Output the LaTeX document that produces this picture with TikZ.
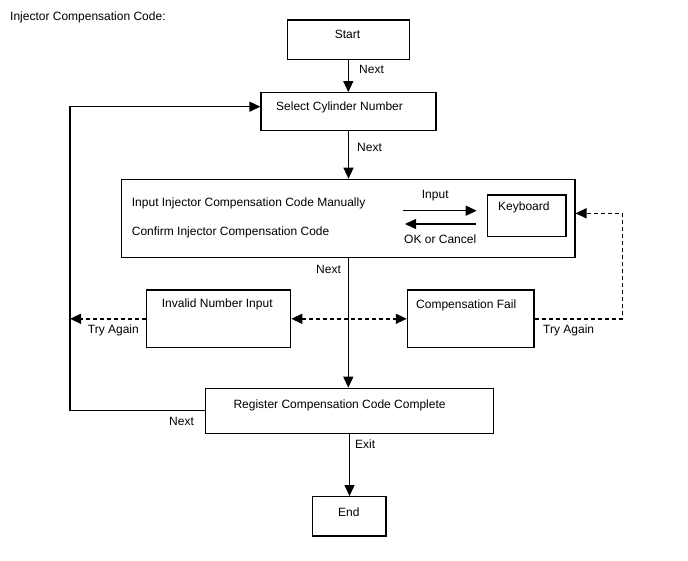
\documentclass[tikz,border=0pt]{standalone}
\usepackage{fontspec}
\setmainfont{Liberation Sans}
\usetikzlibrary{arrows.meta}
\tikzset{
  every picture/.style={font=\fontsize{12}{14}\selectfont},
  caja/.style={draw, line width=1.2pt, inner sep=0pt},
  txt/.style={anchor=base west, inner sep=0pt},
  txtc/.style={anchor=base, inner sep=0pt},
  punta/.tip={Triangle[length=11pt, width=10pt]},
  linea/.style={line width=1.2pt},
  flecha/.style={-punta, line width=1.2pt},
  flechad/.style={-punta, line width=1.5pt, dash pattern=on 4pt off 3pt},
  flechadd/.style={punta-punta, line width=1.5pt, dash pattern=on 4pt off 3pt},
}
\begin{document}
\begin{tikzpicture}[x=1pt, y=-1pt]
  \useasboundingbox (0,0) rectangle (688,560);
  % boxes
  \node[caja, minimum width=122pt, minimum height=39.3pt] (S) at (348.3,39.7) {};
  \node[caja, minimum width=175pt, minimum height=38pt] (C) at (348.5,111.7) {};
  \node[caja, minimum width=453.3pt, minimum height=78pt] (I) at (348.3,218.3) {};
  \node[caja, minimum width=78.7pt, minimum height=41.7pt] (K) at (526.7,215.8) {};
  \node[caja, minimum width=144pt, minimum height=57.7pt] (N) at (218.7,318.8) {};
  \node[caja, minimum width=126.7pt, minimum height=57.7pt] (F) at (470.7,318.8) {};
  \node[caja, minimum width=287.6pt, minimum height=45pt] (R) at (349.5,410.8) {};
  \node[caja, minimum width=73.7pt, minimum height=39.3pt] (E) at (349.2,516.3) {};
  % texts
  \node[txt] (titulo) at (10,20.3) {Injector Compensation Code:};
  \node[txtc] (tS) at (347.5,38.3) {Start};
  \node[txt] (tC) at (276,110.3) {Select Cylinder Number};
  \node[txt] (tI1) at (131.7,206.6) {Input Injector Compensation Code Manually};
  \node[txt] (tI2) at (131.7,235.3) {Confirm Injector Compensation Code};
  \node[txt] (tK) at (498,210.3) {Keyboard};
  \node[txt] (tN) at (161.7,307.6) {Invalid Number Input};
  \node[txt] (tF) at (416,308.6) {Compensation Fail};
  \node[txt] (tR) at (233.3,408.6) {Register Compensation Code Complete};
  \node[txtc] (tE) at (348.8,516.5) {End};
  % connector labels
  \node[txt] (n1) at (359,73.3) {Next};
  \node[txt] (n2) at (357,151) {Next};
  \node[txt] (n3) at (316,273.6) {Next};
  \node[txt] (n4) at (169,425.3) {Next};
  \node[txt] (x1) at (355,448.6) {Exit};
  \node[txt] (in) at (421.7,198.6) {Input};
  \node[txt] (ok) at (404,243.6) {OK or Cancel};
  \node[txt] (ta1) at (87.7,333.6) {Try Again};
  \node[txt] (ta2) at (543,333.6) {Try Again};
  % corner points
  \coordinate (p1) at (403,210.7); \coordinate (p2) at (476.7,210.7);
  \coordinate (p3) at (476,224); \coordinate (p4) at (405,224);
  \coordinate (b) at (70,106.7);
  \coordinate (d) at (622.3,213.3);
  % connectors
  \draw[flecha] (S.south) -- (S.south |- C.north);
  \draw[flecha] (C.south) -- (C.south |- I.north);
  \draw[flecha] (I.south) -- (I.south |- R.north);
  \draw[flecha] (R.south) -- (R.south |- E.north);
  \draw[flecha] (p1) -- (p2);
  \draw[flecha] (p3) -- (p4);
  \draw[flecha] (R.west) -- (R.west -| b) -- (b) -- (b -| C.west);
  \draw[flechad] (N.west) -- (N.west -| b);
  \draw[flechadd] (N.east) -- (F.west);
  \draw[flechad] (F.east) -- (F.east -| d) -- (d) -- (d -| I.east);
\end{tikzpicture}
\end{document}
